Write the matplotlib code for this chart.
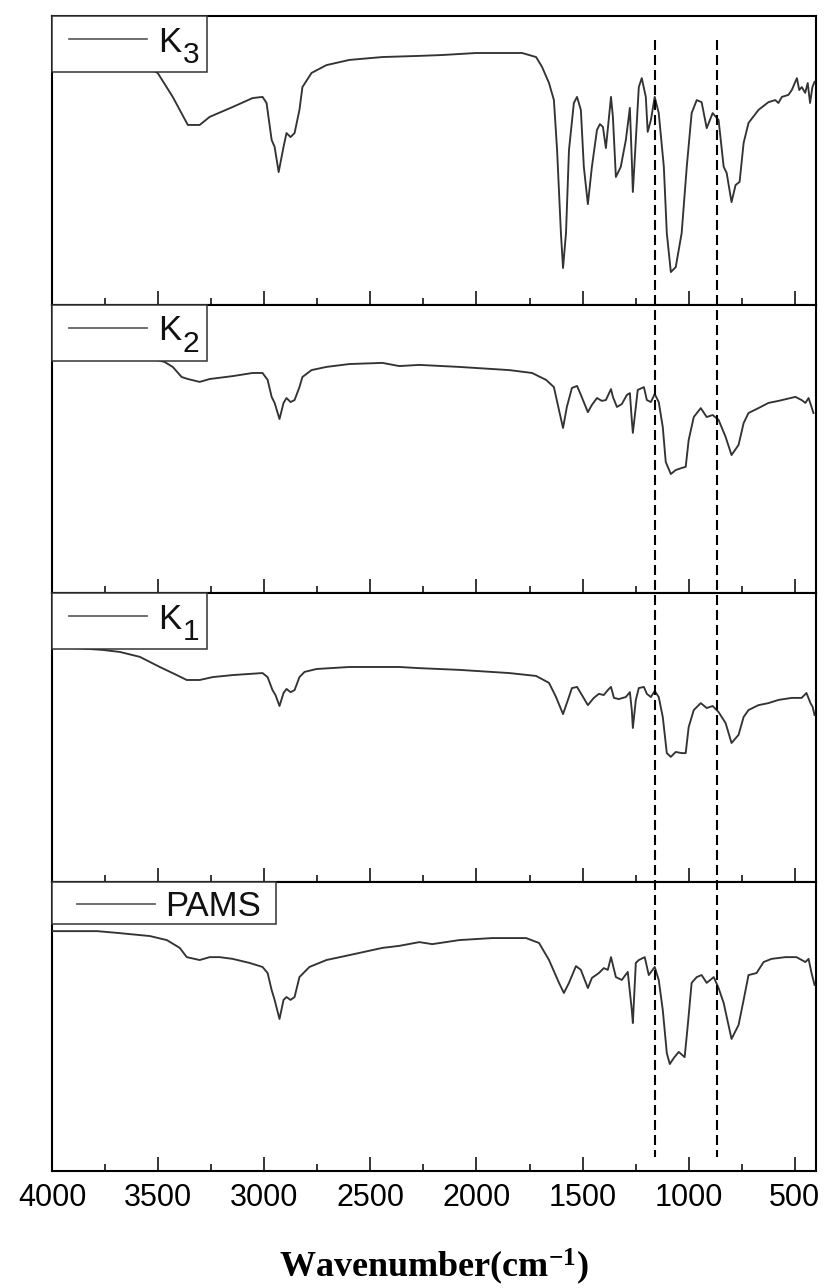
import matplotlib
matplotlib.use("Agg")
import matplotlib.pyplot as plt
from matplotlib.lines import Line2D
from matplotlib.patches import Rectangle
from matplotlib.ticker import MultipleLocator
import matplotlib.transforms as mtransforms

plt.rcParams['font.family'] = ['Liberation Sans', 'DejaVu Sans']
plt.rcParams['mathtext.fontset'] = 'custom'
plt.rcParams['mathtext.rm'] = 'Liberation Sans'
plt.rcParams['mathtext.it'] = 'Liberation Sans:italic'
plt.rcParams['mathtext.bf'] = 'Liberation Serif:bold'

# ---------------- data (wavenumber in cm-1, transmittance in a.u.) ----------------
k3_wn = [4000, 3680, 3502, 3431, 3360, 3304, 3257, 3149, 3055, 3008, 2989, 2965, 2951, 2932,
         2909, 2895, 2876, 2857, 2834, 2820, 2777, 2707, 2599, 2443, 2269, 2161, 2001, 1785,
         1719, 1691, 1658, 1635, 1620, 1602, 1592, 1578, 1564, 1541, 1526, 1508, 1494, 1475,
         1456, 1432, 1418, 1404, 1390, 1366, 1357, 1343, 1320, 1296, 1277, 1268, 1263, 1249,
         1235, 1221, 1202, 1193, 1178, 1160, 1141, 1117, 1103, 1084, 1061, 1033, 1009, 986,
         962, 939, 915, 887, 859, 835, 821, 798, 779, 760, 741, 718, 671, 624, 592, 577, 561,
         530, 514, 490, 479, 467, 451, 439, 428, 417, 407]
k3_t = [90, 86.5, 80.3, 72.0, 62.3, 62.3, 65.1, 68.5, 71.6, 72.0, 69.9, 57.1, 54.7, 46.0,
        54.7, 59.5, 58.1, 59.5, 67.5, 75.4, 80.3, 83.0, 84.8, 85.8, 86.2, 86.5, 87.2, 87.2,
        85.8, 82.4, 76.8, 70.9, 53.6, 24.9, 12.8, 24.9, 53.6, 69.9, 72.0, 67.5, 47.8, 34.9,
        47.8, 60.6, 62.6, 61.6, 54.3, 72.0, 65.1, 44.3, 47.8, 57.1, 68.2, 50.2, 39.1, 57.1,
        75.4, 78.5, 72.0, 59.9, 64.0, 72.0, 66.4, 47.8, 24.9, 11.4, 13.1, 24.9, 47.8, 66.4,
        70.9, 70.2, 61.2, 66.4, 64.0, 47.8, 45.7, 35.6, 41.5, 42.6, 56.1, 63.0, 67.5, 70.2,
        70.9, 69.9, 72.0, 72.7, 74.4, 78.5, 74.4, 75.4, 73.4, 76.8, 69.9, 75.4, 77.2]

k2_wn = [4000, 3469, 3431, 3389, 3360, 3304, 3257, 3149, 3055, 3008, 2984, 2965, 2951, 2928,
         2909, 2895, 2876, 2857, 2834, 2820, 2777, 2707, 2599, 2443, 2364, 2269, 2081, 1846,
         1738, 1672, 1635, 1611, 1592, 1574, 1550, 1526, 1508, 1475, 1456, 1432, 1409, 1390,
         1366, 1357, 1338, 1315, 1291, 1277, 1268, 1263, 1249, 1240, 1211, 1197, 1178, 1160,
         1141, 1122, 1108, 1084, 1061, 1033, 1014, 1000, 976, 943, 915, 887, 859, 826, 798,
         765, 741, 718, 671, 624, 577, 497, 468, 450, 435, 421, 412]
k2_t = [91, 80.2, 78.5, 75.0, 74.3, 73.3, 74.3, 75.3, 76.4, 76.4, 74.0, 68.1, 66.0, 60.4,
        66.0, 67.7, 66.3, 67.0, 71.5, 75.0, 77.4, 78.5, 79.5, 79.9, 78.8, 79.2, 78.5, 77.4,
        76.4, 74.0, 71.5, 63.5, 57.3, 64.6, 71.2, 71.9, 68.8, 62.8, 65.3, 67.7, 66.7, 67.0,
        70.8, 68.1, 64.6, 65.6, 68.8, 69.4, 60.1, 55.6, 64.6, 70.5, 71.5, 67.0, 66.3, 69.1,
        66.3, 57.6, 45.5, 41.3, 42.7, 43.4, 43.8, 53.1, 61.1, 64.2, 61.1, 61.8, 60.1, 54.2,
        47.9, 51.4, 59.0, 62.5, 64.2, 66.0, 66.7, 68.1, 67.0, 66.0, 67.7, 64.6, 62.5]

k1_wn = [4000, 3760, 3680, 3586, 3492, 3412, 3365, 3304, 3243, 3149, 3008, 2984, 2961, 2947,
         2928, 2909, 2895, 2876, 2857, 2834, 2810, 2754, 2599, 2443, 2364, 2269, 2081, 1846,
         1719, 1658, 1625, 1592, 1569, 1550, 1526, 1503, 1475, 1447, 1423, 1400, 1381, 1366,
         1352, 1329, 1296, 1277, 1268, 1263, 1249, 1235, 1211, 1197, 1178, 1160, 1141, 1122,
         1103, 1084, 1061, 1033, 1014, 1000, 976, 943, 915, 887, 859, 826, 798, 765, 741, 718,
         671, 624, 577, 515, 468, 445, 426, 416, 407]
k1_t = [81.5, 80.3, 79.6, 77.9, 74.4, 71.6, 69.9, 69.9, 70.9, 71.6, 72.3, 70.9, 66.4, 64.7,
        60.9, 65.4, 66.8, 65.7, 66.4, 70.9, 72.7, 73.7, 74.4, 74.4, 74.4, 74.0, 73.4, 72.3,
        71.3, 68.9, 64.0, 58.1, 63.0, 67.1, 67.5, 64.7, 61.2, 63.7, 65.1, 64.7, 66.4, 67.5,
        63.7, 63.3, 64.0, 65.7, 59.5, 53.3, 63.0, 67.1, 67.5, 65.1, 64.0, 66.1, 64.0, 57.1,
        44.6, 43.3, 45.0, 44.6, 44.6, 53.6, 59.5, 61.9, 60.2, 60.9, 58.8, 55.0, 48.1, 50.9,
        57.1, 59.5, 61.2, 61.9, 63.0, 63.7, 63.7, 65.4, 61.9, 60.6, 57.8]

pams_wn = [4000, 3929, 3788, 3694, 3539, 3459, 3398, 3365, 3304, 3257, 3210, 3149, 3069, 3008,
           2984, 2965, 2951, 2928, 2909, 2895, 2876, 2857, 2834, 2787, 2707, 2599, 2443, 2364,
           2269, 2208, 2081, 1926, 1766, 1705, 1658, 1611, 1588, 1564, 1531, 1508, 1475, 1456,
           1423, 1400, 1381, 1366, 1343, 1315, 1287, 1268, 1263, 1249, 1235, 1207, 1188, 1160,
           1141, 1122, 1103, 1089, 1070, 1047, 1019, 1005, 986, 962, 939, 915, 882, 859, 835,
           798, 765, 741, 718, 680, 647, 610, 544, 492, 450, 435, 421, 407]
pams_t = [83.0, 83.0, 83.0, 82.4, 81.3, 79.9, 77.2, 74.0, 73.0, 74.0, 74.0, 73.4, 72.0, 70.6,
          68.5, 62.6, 59.2, 52.6, 59.2, 60.2, 59.2, 60.2, 67.1, 70.6, 73.0, 74.7, 77.2, 77.9,
          79.2, 78.5, 79.9, 80.6, 80.6, 78.9, 73.0, 65.1, 61.6, 65.1, 70.9, 69.6, 63.3, 66.8,
          68.5, 70.2, 69.6, 74.0, 67.1, 66.1, 68.9, 55.7, 51.2, 72.0, 73.0, 74.0, 67.8, 70.6,
          66.1, 55.7, 40.8, 37.0, 39.1, 41.2, 39.4, 49.8, 65.1, 67.1, 67.8, 65.1, 67.1, 63.3,
          58.1, 45.7, 50.5, 59.2, 67.8, 68.5, 72.3, 73.4, 74.0, 74.0, 72.3, 73.4, 68.5, 64.4]

series_names = ["K", "K", "K", "PAMS"]
series_subs = ["3", "2", "1", ""]
series_wn = [k3_wn, k2_wn, k1_wn, pams_wn]
series_t = [k3_t, k2_t, k1_t, pams_t]
marker_lines = [1160, 865]
x_ticks = [4000, 3500, 3000, 2500, 2000, 1500, 1000, 500]

# ---------------- layout ----------------
W, H = 826, 1288
fig = plt.figure(figsize=(W / 100, H / 100), dpi=100)
fig.patch.set_facecolor('white')

ax_left_px, ax_right_px = 52, 816
panel_edges_px = [16, 305, 593, 882, 1171]

axes = []
for i in range(4):
    top, bot = panel_edges_px[i], panel_edges_px[i + 1]
    rect = [ax_left_px / W, 1 - bot / H, (ax_right_px - ax_left_px) / W, (bot - top) / H]
    ax = fig.add_axes(rect)
    axes.append(ax)

curve_color = '#333333'
for i, ax in enumerate(axes):
    ax.plot(series_wn[i], series_t[i], color=curve_color, lw=1.35, zorder=3)
    ax.set_xlim(4000, 400)
    ax.set_ylim(0, 100)
    ax.set_xticks(x_ticks)
    ax.xaxis.set_minor_locator(MultipleLocator(250))
    ax.set_yticks([])
    for s in ax.spines.values():
        s.set_linewidth(1.5)
        s.set_color('black')
    ax.tick_params(axis='x', which='both', direction='in', bottom=True, top=False,
                   width=1.1, color='black')
    ax.tick_params(axis='x', which='major', length=10, labelsize=22, pad=9)
    ax.tick_params(axis='x', which='minor', length=5)
    if i < 3:
        ax.tick_params(axis='x', which='both', labelbottom=False)

    # legend box (drawn in pixel offsets from the axes' top-left corner)
    aw = ax_right_px - ax_left_px
    ah = panel_edges_px[i + 1] - panel_edges_px[i]
    if i < 3:
        bw, bh, lx0, lx1, ly, tx, tb = 155, 56, 17, 95, 23, 106, 35.5
    else:
        bw, bh, lx0, lx1, ly, tx, tb = 224, 42, 25, 103, 22, 113, 34
    ax.add_patch(Rectangle((0, 1 - bh / ah), bw / aw, bh / ah, transform=ax.transAxes,
                           facecolor='white', edgecolor='#333333', lw=1.1, zorder=5,
                           clip_on=False))
    ax.add_line(Line2D([lx0 / aw, lx1 / aw], [1 - ly / ah, 1 - ly / ah], transform=ax.transAxes,
                       color='#555555', lw=1.2, zorder=6))
    ax.text(tx / aw, 1 - tb / ah, series_names[i], transform=ax.transAxes, fontsize=25,
            ha='left', va='baseline', color='#111111', zorder=7)
    if series_subs[i]:
        ax.text(130.5 / aw, 1 - 47.3 / ah, series_subs[i], transform=ax.transAxes,
                fontsize=21.5, ha='left', va='baseline', color='#111111', zorder=7)

bottom_ax = axes[-1]
bottom_ax.set_xlabel(r'$\mathbf{Wavenumber(cm^{-1})}$', fontsize=26)
bottom_ax.xaxis.set_label_coords(0.5, -(1247 - 1171) / 289)

# dashed reference lines spanning all panels
blend = mtransforms.blended_transform_factory(bottom_ax.transData, fig.transFigure)
for xv in marker_lines:
    fig.add_artist(Line2D([xv, xv], [1 - 40 / H, 1 - 1157 / H], transform=blend,
                          color='black', lw=1.5, dashes=(4.8, 2.4), zorder=10))

fig.savefig('out.png', dpi=100)
